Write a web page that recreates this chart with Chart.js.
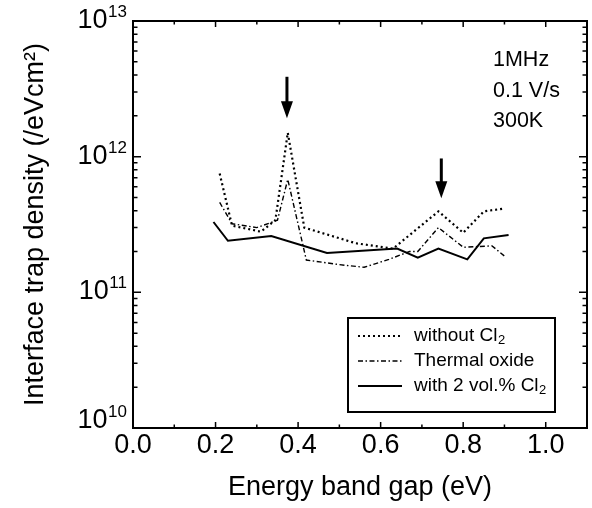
<!DOCTYPE html>
<html>
<head>
<meta charset="utf-8">
<script src="https://cdn.jsdelivr.net/npm/chart.js@4.4.0/dist/chart.umd.min.js"></script>
<style>
  html, body { margin: 0; padding: 0; background: #fff; }
  #wrap { width: 592px; height: 508px; position: relative; }
</style>
</head>
<body>
<div id="wrap"><canvas id="canvas"></canvas></div>
<script>
// values: energy (eV) vs interface trap density
var xWithout = [0.21, 0.24, 0.31, 0.345, 0.375, 0.415, 0.54, 0.63, 0.74, 0.80, 0.85, 0.90];
var yWithout = [7.5e11, 3.1e11, 2.8e11, 3.4e11, 1.5e12, 3.0e11, 2.3e11, 2.1e11, 3.95e11, 2.75e11, 3.95e11, 4.15e11];

var xThermal = [0.21, 0.24, 0.30, 0.35, 0.375, 0.42, 0.50, 0.56, 0.62, 0.67, 0.69, 0.74, 0.80, 0.87, 0.90];
var yThermal = [4.6e11, 3.2e11, 3.0e11, 3.4e11, 6.8e11, 1.73e11, 1.6e11, 1.53e11, 1.75e11, 2.0e11, 2.0e11, 3.0e11, 2.15e11, 2.2e11, 1.85e11];

var xWith = [0.195, 0.23, 0.335, 0.47, 0.64, 0.69, 0.74, 0.81, 0.85, 0.91];
var yWith = [3.3e11, 2.4e11, 2.6e11, 1.95e11, 2.1e11, 1.8e11, 2.1e11, 1.75e11, 2.5e11, 2.65e11];

var decades = [10, 11, 12, 13];
var notes = ['1MHz', '0.1 V/s', '300K'];

// the two arrows (x, top, tip) in data units
var arrowX = [0.373, 0.747];
var arrowTop = [3.88e12, 9.7e11];
var arrowTip = [1.92e12, 4.93e11];

var FONT = "'Liberation Sans', Arial, Helvetica, sans-serif";

function pts(xs, ys) {
  return xs.map(function (x, i) { return { x: x, y: ys[i] }; });
}

// text with a "₂" drawn as a real lowered small 2
function subText(ctx, str, x, y, size) {
  var parts = str.split('\u2082');
  ctx.font = size + 'px ' + FONT;
  ctx.fillText(parts[0], x, y);
  if (parts.length > 1) {
    var w = ctx.measureText(parts[0]).width;
    ctx.font = Math.round(size * 0.68) + 'px ' + FONT;
    ctx.fillText('2', x + w + 0.5, y + 4);
  }
}

var extras = {
  id: 'extras',
  afterDraw: function (chart) {
    var ctx = chart.ctx, a = chart.chartArea;
    var xs = chart.scales.x, ys = chart.scales.y;
    ctx.save();
    ctx.strokeStyle = '#000';
    ctx.fillStyle = '#000';

    // frame
    ctx.lineWidth = 2;
    ctx.strokeRect(a.left, a.top, a.right - a.left, a.bottom - a.top);

    // inward ticks on all four sides
    ctx.lineWidth = 1.5;
    ctx.beginPath();
    for (var i = 1; i <= 10; i++) {
      var px = xs.getPixelForValue(i / 10);
      var len = i % 2 === 0 ? 6 : 3.5;
      ctx.moveTo(px, a.bottom); ctx.lineTo(px, a.bottom - len);
      ctx.moveTo(px, a.top); ctx.lineTo(px, a.top + len);
    }
    for (var p = 10; p < 13; p++) {
      for (var m = 1; m <= 9; m++) {
        if (p === 10 && m === 1) continue;
        var py = ys.getPixelForValue(m * Math.pow(10, p));
        var l = m === 1 ? 8 : 4.5;
        ctx.moveTo(a.left, py); ctx.lineTo(a.left + l, py);
        ctx.moveTo(a.right, py); ctx.lineTo(a.right - l, py);
      }
    }
    ctx.stroke();

    // y tick labels 10^n
    ctx.textAlign = 'right';
    ctx.textBaseline = 'alphabetic';
    decades.forEach(function (p) {
      var py = ys.getPixelForValue(Math.pow(10, p));
      var base = p === 10 ? py : py + 7;
      var e = String(p);
      ctx.font = '17px ' + FONT;
      var ew = ctx.measureText(e).width;
      ctx.fillText(e, a.left - 6, base - 11);
      ctx.font = '27px ' + FONT;
      ctx.fillText('10', a.left - 6 - ew - 0.5, base);
    });

    // arrows
    arrowX.forEach(function (v, i) {
      var px = xs.getPixelForValue(v);
      var y0 = ys.getPixelForValue(arrowTop[i]);
      var y1 = ys.getPixelForValue(arrowTip[i]);
      ctx.lineWidth = 3;
      ctx.beginPath();
      ctx.moveTo(px, y0); ctx.lineTo(px, y1 - 14);
      ctx.stroke();
      ctx.beginPath();
      ctx.moveTo(px - 6, y1 - 17); ctx.lineTo(px + 6, y1 - 17); ctx.lineTo(px, y1);
      ctx.closePath();
      ctx.fill();
    });

    // conditions text
    ctx.textAlign = 'left';
    ctx.font = '21.5px ' + FONT;
    notes.forEach(function (t, i) {
      ctx.fillText(t, a.right - 94, a.top + 45 + i * 30.5);
    });

    // legend box
    var bx = a.right - 239, by = a.bottom - 110, bw = 207, bh = 94;
    ctx.lineWidth = 2;
    ctx.strokeRect(bx, by, bw, bh);
    ctx.textBaseline = 'middle';
    chart.data.datasets.forEach(function (ds, i) {
      var ly = by + 18 + i * 25;
      ctx.save();
      ctx.lineWidth = ds.borderWidth;
      ctx.setLineDash(ds.borderDash || []);
      ctx.beginPath();
      ctx.moveTo(bx + 10, ly); ctx.lineTo(bx + 54, ly);
      ctx.stroke();
      ctx.restore();
      subText(ctx, ds.label, bx + 66, ly, 19);
    });
    ctx.restore();
  }
};

new Chart(document.getElementById('canvas'), {
  type: 'line',
  data: {
    datasets: [
      { label: 'without Cl\u2082', data: pts(xWithout, yWithout), borderColor: '#000', borderWidth: 2.2, borderDash: [2, 3] },
      { label: 'Thermal oxide', data: pts(xThermal, yThermal), borderColor: '#000', borderWidth: 1.4, borderDash: [5, 2.5, 1.5, 2.5] },
      { label: 'with 2 vol.% Cl\u2082', data: pts(xWith, yWith), borderColor: '#000', borderWidth: 2 }
    ]
  },
  options: {
    responsive: true,
    maintainAspectRatio: false,
    animation: false,
    layout: { padding: { top: 21, right: 5, left: 0, bottom: 0 } },
    elements: { point: { radius: 0 }, line: { tension: 0, fill: false } },
    plugins: { legend: { display: false }, tooltip: { enabled: false } },
    scales: {
      x: {
        type: 'linear', min: 0, max: 1.1,
        grid: { display: false, drawTicks: false },
        border: { display: false },
        ticks: {
          stepSize: 0.1, autoSkip: false, maxRotation: 0, padding: 1,
          color: '#000', font: { family: FONT, size: 27 },
          callback: function (v) {
            var k = Math.round(v * 10);
            return (k % 2 === 0 && k <= 10) ? (k / 10).toFixed(1) : '';
          }
        },
        title: { display: true, text: 'Energy band gap (eV)', color: '#000', font: { family: FONT, size: 27 }, padding: { top: 0, bottom: 4 } },
        afterFit: function (s) { s.height = 80; }
      },
      y: {
        type: 'logarithmic', min: 1e10, max: 1e13,
        grid: { display: false, drawTicks: false },
        border: { display: false },
        ticks: { display: false },
        title: { display: true, text: 'Interface trap density (/eVcm\u00b2)', color: '#000', font: { family: FONT, size: 27 }, padding: { top: 19, bottom: 0 } },
        afterFit: function (s) { s.width = 133; }
      }
    }
  },
  plugins: [extras]
});
</script>
</body>
</html>
